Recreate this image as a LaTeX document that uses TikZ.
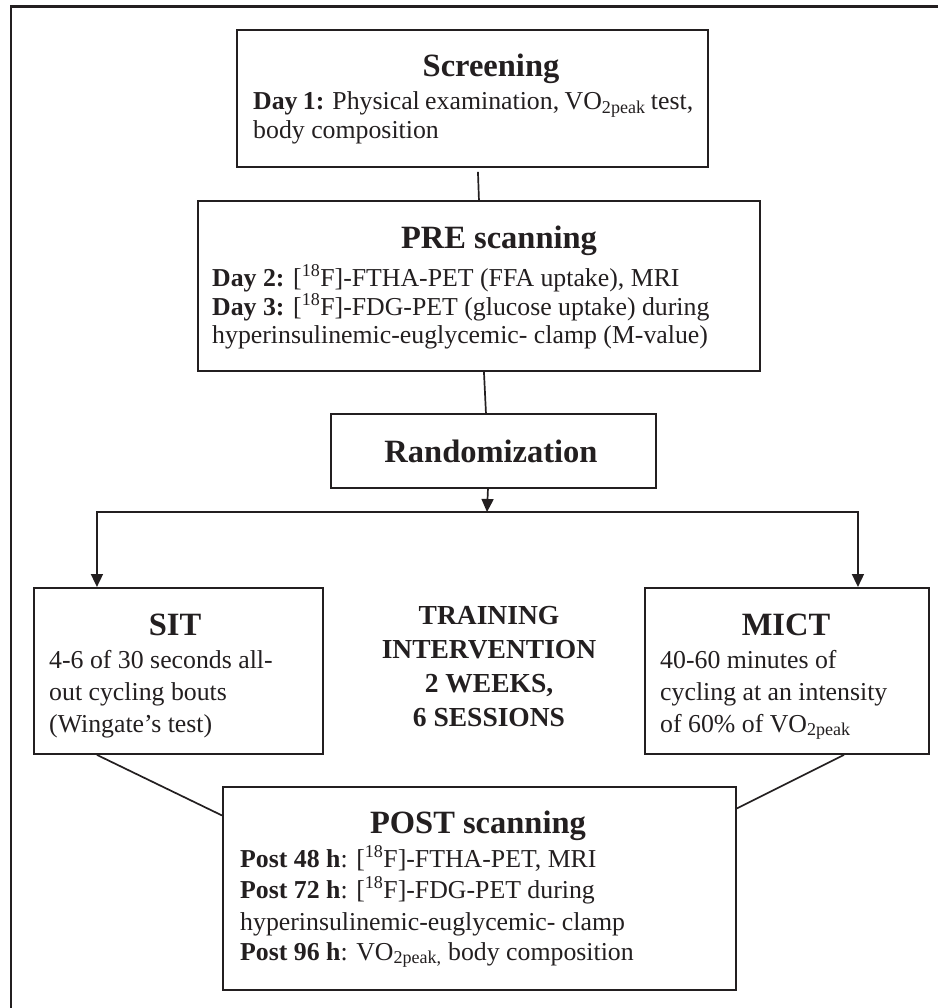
\documentclass[tikz,border=0pt]{standalone}
\usepackage{fontspec}
\setmainfont{Liberation Serif}
\usetikzlibrary{arrows.meta}
\definecolor{ink}{RGB}{35,31,32}
\begin{document}
\begin{tikzpicture}[x=1pt,y=-1pt,
  box/.style={draw=ink,line width=1.9pt,anchor=north west,inner sep=0pt,fill=white},
  body/.style={font=\fontsize{25.8}{29}\selectfont,inner sep=0pt,anchor=base west,text=ink},
  ttl/.style={font=\fontsize{32.5}{36}\selectfont\bfseries,inner sep=0pt,anchor=base,text=ink},
  mid/.style={font=\fontsize{27.5}{30}\selectfont\bfseries,inner sep=0pt,anchor=base,text=ink},
  link/.style={draw=ink,line width=1.7pt},
  arr/.style={link,-{Triangle[length=13pt,width=12pt]}}]
\useasboundingbox (0,0) rectangle (938,1008);
% frame
\draw[ink,line width=2.2pt] (11,1008) -- (11,6.5) -- (938,6.5);

% boxes
\node[box,minimum width=471pt,minimum height=137pt] (scr) at (236,29) {};
\node[box,minimum width=562pt,minimum height=170pt] (pre) at (197,200) {};
\node[box,minimum width=325pt,minimum height=74pt] (rnd) at (330,413) {};
\node[box,minimum width=289pt,minimum height=166pt] (sit) at (33,587) {};
\node[box,minimum width=284pt,minimum height=166pt] (mict) at (644,587) {};
\node[box,minimum width=513pt,minimum height=203pt] (post) at (222,786) {};

% Screening
\node[ttl] (scrT) at (491,77) {Screening};
\node[body] (scr1) at (253,110) {\makebox[440pt][s]{\textbf{Day 1:} Physical examination, VO\textsubscript{2peak} test,}};
\node[body] (scr2) at (253,139) {body composition};

% PRE scanning
\node[ttl] (preT) at (499,248) {PRE scanning};
\node[body] (pre1) at (212,286) {\textbf{Day 2:} [\textsuperscript{18}F]-FTHA-PET (FFA uptake), MRI};
\node[body] (pre2) at (212,315) {\textbf{Day 3:} [\textsuperscript{18}F]-FDG-PET (glucose uptake) during};
\node[body] (pre3) at (212,343) {hyperinsulinemic-euglycemic- clamp (M-value)};

% Randomization
\node[ttl] (rndT) at (491,462) {Randomization};

% SIT
\node[ttl] (sitT) at (175,635) {SIT};
\node[body] (sit1) at (49,668) {4-6 of 30 seconds all-};
\node[body] (sit2) at (49,700) {out cycling bouts};
\node[body] (sit3) at (49,732) {(Wingate’s test)};

% training
\node[mid] (tr1) at (489,624) {TRAINING};
\node[mid] (tr2) at (489,658) {INTERVENTION};
\node[mid] (tr3) at (489,692) {2 WEEKS,};
\node[mid] (tr4) at (489,726) {6 SESSIONS};

% MICT
\node[ttl] (mictT) at (786,635) {MICT};
\node[body] (mict1) at (660,668) {40-60 minutes of};
\node[body] (mict2) at (660,700) {cycling at an intensity};
\node[body] (mict3) at (660,732) {of 60\% of VO\textsubscript{2peak}};

% POST scanning
\node[ttl] (postT) at (478,833) {POST scanning};
\node[body] (post1) at (240,867) {\textbf{Post 48 h}: [\textsuperscript{18}F]-FTHA-PET, MRI};
\node[body] (post2) at (240,898) {\textbf{Post 72 h}: [\textsuperscript{18}F]-FDG-PET during};
\node[body] (post3) at (240,930) {hyperinsulinemic-euglycemic- clamp};
\node[body] (post4) at (240,960) {\textbf{Post 96 h}: VO\textsubscript{2peak,} body composition};

% connectors
\draw[link] ([xshift=5.5pt,yshift=-4pt]scr.south) -- ([xshift=0pt]pre.north);
\draw[link] ([xshift=5pt]pre.south) -- ([xshift=-7.5pt]rnd.north);
\coordinate (split) at (487,512);
\draw[arr] ([xshift=-5.5pt]rnd.south) -- (split);
\draw[arr] (split) -| ([xshift=-81.5pt]sit.north);
\draw[arr] (split) -| ([xshift=71pt]mict.north);
\draw[link] ([xshift=-81.5pt]sit.south) -- ([yshift=73pt]post.west);
\draw[link] ([xshift=57pt]mict.south) -- ([yshift=80pt]post.east);
\end{tikzpicture}
\end{document}
